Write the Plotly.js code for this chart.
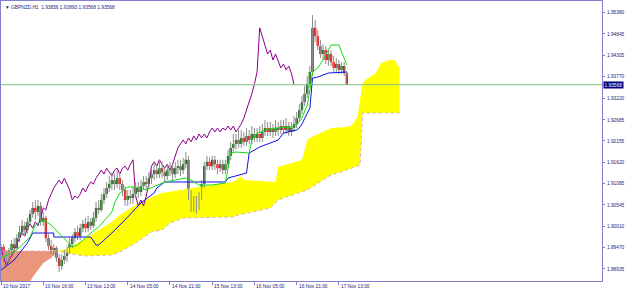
<!DOCTYPE html>
<html><head><meta charset="utf-8">
<script src="https://cdn.plot.ly/plotly-3.0.1.min.js"></script>
<style>html,body{margin:0;padding:0;background:#fff;overflow:hidden}#c{width:625px;height:289px}</style>
</head><body><div id="c"></div>
<script>
const symbolTitle = "\u25BC GBPNZD,H1  1.93856 1.93893 1.93568 1.93568";
const xTickBars = [0,16,32,48,64,80,96,112,128];
const xTickText = ["10 Nov 2017","10 Nov 16:00","13 Nov 13:00","14 Nov 05:00","14 Nov 21:00","15 Nov 13:00","16 Nov 05:00","16 Nov 21:00","17 Nov 13:00"];
const yTickVals = [1.95380,1.94845,1.94305,1.93770,1.93220,1.92685,1.92155,1.91620,1.91085,1.90545,1.90010,1.89470,1.88935];
const yTickText = ["1.95380","1.94845","1.94305","1.93770","1.93220","1.92685","1.92155","1.91620","1.91085","1.90545","1.90010","1.89470","1.88935"];
const bid = 1.93568;
const chikouShift = 20;

const open = [1.8941,1.8949,1.8936,1.8921,1.8941,1.8956,1.8946,1.8971,1.8986,1.9002,
 1.8991,1.9012,1.9032,1.9047,1.9037,1.9052,1.9012,1.9022,1.8971,1.8951,
 1.8941,1.8946,1.8921,1.8901,1.8916,1.8926,1.8941,1.8956,1.8971,1.8986,
 1.8976,1.8996,1.9007,1.8996,1.9012,1.9002,1.9022,1.9047,1.9042,1.9067,
 1.9082,1.9097,1.9107,1.9117,1.9107,1.9122,1.9107,1.9092,1.9067,1.9077,
 1.9072,1.9082,1.9097,1.9087,1.9102,1.9112,1.9107,1.9122,1.9132,1.9142,
 1.9132,1.9147,1.9137,1.9127,1.9142,1.9147,1.9132,1.9147,1.9152,1.9142,
 1.9157,1.9168,1.9077,1.9052,1.9067,1.9052,1.9077,1.9107,1.9152,1.9163,
 1.9152,1.9168,1.9157,1.9147,1.9157,1.9142,1.9157,1.9178,1.9198,1.9208,
 1.9218,1.9208,1.9223,1.9213,1.9228,1.9218,1.9233,1.9223,1.9233,1.9223,
 1.9238,1.9248,1.9238,1.9248,1.9238,1.9248,1.9243,1.9253,1.9243,1.9253,
 1.9238,1.9248,1.9258,1.9273,1.9293,1.9313,1.9334,1.9359,1.9389,1.9500,
 1.9479,1.9454,1.9434,1.9444,1.9419,1.9434,1.9414,1.9399,1.9409,1.9394,
 1.9404,1.93856];
const high = [1.8956,1.8956,1.8941,1.8946,1.8966,1.8971,1.8981,1.9002,1.9017,1.9012,
 1.9022,1.9042,1.9062,1.9067,1.9067,1.9062,1.9037,1.9027,1.8981,1.8966,
 1.8956,1.8951,1.8931,1.8931,1.8941,1.8951,1.8971,1.8981,1.8996,1.9002,
 1.9007,1.9017,1.9022,1.9027,1.9022,1.9037,1.9062,1.9067,1.9082,1.9097,
 1.9112,1.9127,1.9137,1.9132,1.9142,1.9137,1.9117,1.9102,1.9092,1.9092,
 1.9102,1.9112,1.9112,1.9117,1.9127,1.9127,1.9137,1.9147,1.9163,1.9157,
 1.9168,1.9163,1.9152,1.9157,1.9163,1.9157,1.9163,1.9168,1.9168,1.9173,
 1.9188,1.9178,1.9092,1.9077,1.9077,1.9087,1.9117,1.9163,1.9178,1.9173,
 1.9178,1.9178,1.9168,1.9168,1.9168,1.9168,1.9193,1.9213,1.9233,1.9233,
 1.9243,1.9243,1.9238,1.9248,1.9243,1.9253,1.9248,1.9248,1.9253,1.9258,
 1.9268,1.9263,1.9263,1.9258,1.9268,1.9263,1.9268,1.9268,1.9273,1.9263,
 1.9263,1.9278,1.9288,1.9308,1.9329,1.9354,1.9379,1.9404,1.9532,1.9520,
 1.9494,1.9469,1.9459,1.9454,1.9444,1.9444,1.9429,1.9424,1.9419,1.9414,
 1.9414,1.93893];
const low = [1.8926,1.8911,1.8901,1.8911,1.8931,1.8936,1.8941,1.8961,1.8976,1.8976,
 1.8981,1.9002,1.9022,1.9017,1.9027,1.9002,1.9002,1.8961,1.8941,1.8931,
 1.8926,1.8911,1.8886,1.8891,1.8906,1.8911,1.8931,1.8946,1.8961,1.8966,
 1.8966,1.8986,1.8986,1.8986,1.8991,1.8996,1.9012,1.9032,1.9037,1.9057,
 1.9072,1.9087,1.9092,1.9092,1.9097,1.9092,1.9077,1.9052,1.9052,1.9057,
 1.9057,1.9072,1.9072,1.9077,1.9092,1.9092,1.9097,1.9107,1.9117,1.9122,
 1.9122,1.9122,1.9112,1.9117,1.9127,1.9117,1.9122,1.9132,1.9127,1.9132,
 1.9147,1.9067,1.9037,1.9037,1.9032,1.9042,1.9067,1.9097,1.9142,1.9142,
 1.9142,1.9142,1.9132,1.9137,1.9132,1.9132,1.9147,1.9168,1.9188,1.9193,
 1.9198,1.9198,1.9203,1.9203,1.9208,1.9208,1.9213,1.9213,1.9213,1.9213,
 1.9228,1.9228,1.9228,1.9223,1.9228,1.9228,1.9233,1.9233,1.9233,1.9228,
 1.9228,1.9238,1.9248,1.9263,1.9283,1.9303,1.9323,1.9349,1.9379,1.9464,
 1.9444,1.9424,1.9419,1.9409,1.9404,1.9404,1.9389,1.9389,1.9384,1.9384,
 1.9379,1.93568];
const close = [1.8949,1.8936,1.8921,1.8941,1.8956,1.8946,1.8971,1.8986,1.9002,1.8991,
 1.9012,1.9032,1.9047,1.9037,1.9052,1.9012,1.9022,1.8971,1.8951,1.8941,
 1.8946,1.8921,1.8901,1.8916,1.8926,1.8941,1.8956,1.8971,1.8986,1.8976,
 1.8996,1.9007,1.8996,1.9012,1.9002,1.9022,1.9047,1.9042,1.9067,1.9082,
 1.9097,1.9107,1.9117,1.9107,1.9122,1.9107,1.9092,1.9067,1.9077,1.9072,
 1.9082,1.9097,1.9087,1.9102,1.9112,1.9107,1.9122,1.9132,1.9142,1.9132,
 1.9147,1.9137,1.9127,1.9142,1.9147,1.9132,1.9147,1.9152,1.9142,1.9157,
 1.9168,1.9077,1.9052,1.9067,1.9052,1.9077,1.9107,1.9152,1.9163,1.9152,
 1.9168,1.9157,1.9147,1.9157,1.9142,1.9157,1.9178,1.9198,1.9208,1.9218,
 1.9208,1.9223,1.9213,1.9228,1.9218,1.9233,1.9223,1.9233,1.9223,1.9238,
 1.9248,1.9238,1.9248,1.9238,1.9248,1.9243,1.9253,1.9243,1.9253,1.9238,
 1.9248,1.9258,1.9273,1.9293,1.9313,1.9334,1.9359,1.9389,1.9500,1.9479,
 1.9454,1.9434,1.9444,1.9419,1.9434,1.9414,1.9399,1.9409,1.9394,1.9404,
 1.9386,1.93568];

const tenkanBar = [0,5,8,11,13,16,19,22,25,27,29,31,34,37,40,42,43,45,48,51,55,59,62,66,70,72,75,80,85,86,87,89,94,95,97,100,104,110,112,114,116,117,118,120,122,124,125,128,129,130,131];
const tenkanVal = [1.89210,1.89361,1.89537,1.89738,1.90040,1.90166,1.90040,1.89839,1.89613,1.89487,1.89537,1.89663,1.89839,1.89990,1.90216,1.90367,1.90594,1.90845,1.90996,1.90996,1.90920,1.91046,1.91122,1.91172,1.91222,1.91172,1.91046,1.91046,1.91097,1.91474,1.91851,1.91876,1.91851,1.92178,1.92349,1.92429,1.92480,1.92505,1.92555,1.92731,1.93058,1.93436,1.93888,1.93989,1.94190,1.94442,1.94567,1.94567,1.94391,1.94240,1.94064];
const kijunBar = [0,5,10,12,20,20,34,36,37,42,48,53,58,59,62,85,86,93,94,98,105,107,112,113,114,115,116,117,118,120,124,131];
const kijunVal = [1.88909,1.89160,1.89588,1.89839,1.89839,1.89738,1.89738,1.89537,1.89537,1.89839,1.90241,1.90594,1.90845,1.90971,1.91122,1.91122,1.91222,1.91348,1.91851,1.92002,1.92178,1.92354,1.92430,1.92480,1.92580,1.92706,1.92832,1.92984,1.93737,1.93762,1.93863,1.93888];
const spanABar = [0,8,11,12,16,19,21,25,29,32,38,42,45,51,57,61,68,77,88,90,91,92,104,105,110,114,116,117,125,131,133,135,137,138,142,144,147,149,151];
const spanAVal = [1.88280,1.88456,1.88607,1.88732,1.89085,1.89210,1.89386,1.89437,1.89588,1.89713,1.89965,1.90116,1.90292,1.90543,1.90744,1.90845,1.90920,1.91021,1.91122,1.91222,1.91273,1.91172,1.91122,1.91499,1.91600,1.91675,1.92178,1.92228,1.92480,1.92505,1.92555,1.92756,1.93612,1.93687,1.93863,1.94115,1.94190,1.94190,1.93989];
const spanBBar = [0,21,29,32,42,45,51,57,61,64,69,88,90,102,105,107,116,120,125,131,136,137,151];
const spanBVal = [1.89386,1.89386,1.89286,1.89261,1.89286,1.89361,1.89588,1.89864,1.89915,1.90091,1.90216,1.90241,1.90292,1.90468,1.90669,1.90719,1.90920,1.91097,1.91298,1.91424,1.91549,1.92857,1.92857];
const kumoSwitchBar = 21;

const C = {frame:'#8080CC', text:'#1C1C78', bull:'#005A00', bear:'#F00000', wick:'#8C8C8C',
  tenkan:'#11DD11', kijun:'#1010E8', chikou:'#8B008B', up:'#FFFF00', down:'#E9967A',
  spanB:'#D0B0D8', bidLine:'#7CC47C', bidBox:'#000080'};

const idx = close.map((_, i) => i);
const pick = (bars, vals, f) => {
  const xs = [], ys = [];
  bars.forEach((b, k) => { if (f(b)) { xs.push(b); ys.push(vals[k]); } });
  return {x: xs, y: ys};
};
const aDown = pick(spanABar, spanAVal, b => b <= kumoSwitchBar);
const bDown = pick(spanBBar, spanBVal, b => b <= kumoSwitchBar);
const aUp = pick(spanABar, spanAVal, b => b >= kumoSwitchBar);
const bUp = pick(spanBBar, spanBVal, b => b >= kumoSwitchBar);

const wx = [], wy = [];
idx.forEach(i => { wx.push(i, i, null); wy.push(low[i], high[i], null); });

const traces = [
  {x: bDown.x, y: bDown.y, mode:'lines', line:{width:0}, hoverinfo:'skip'},
  {x: aDown.x, y: aDown.y, mode:'lines', line:{width:0}, fill:'tonexty', fillcolor:C.down, hoverinfo:'skip'},
  {x: bUp.x, y: bUp.y, mode:'lines', line:{width:0}, hoverinfo:'skip'},
  {x: aUp.x, y: aUp.y, mode:'lines', line:{width:0}, fill:'tonexty', fillcolor:C.up, hoverinfo:'skip'},
  {x: spanBBar, y: spanBVal, mode:'lines', line:{width:1, color:C.spanB, dash:'dot'}},
  {x: idx.slice(chikouShift).map(i => i - chikouShift), y: close.slice(chikouShift), mode:'lines', line:{width:1, color:C.chikou}},
  {x: wx, y: wy, mode:'lines', line:{width:1, color:C.wick}, connectgaps:false},
  {type:'bar', x: idx, base: open, y: idx.map(i => close[i] - open[i]), width: 0.9,
   marker:{color: idx.map(i => close[i] >= open[i] ? C.bull : C.bear), line:{width:0}}},
  {x: kijunBar, y: kijunVal, mode:'lines', line:{width:1, color:C.kijun}},
  {x: tenkanBar, y: tenkanVal, mode:'lines', line:{width:1, color:C.tenkan}}
];

const xLabels = xTickBars.map((b, k) => ({xref:'x', yref:'paper', x:b, y:0, xanchor:'left', yanchor:'top',
  xshift:0, yshift:-0.5, text:xTickText[k], showarrow:false, font:{size:4.8, color:C.text}}));

const layout = {
  width:625, height:289, showlegend:false,
  margin:{l:1, r:23, t:1, b:8},
  paper_bgcolor:'#ffffff', plot_bgcolor:'#ffffff',
  font:{family:'Liberation Sans, Arial, sans-serif', size:5, color:C.text},
  barmode:'overlay',
  xaxis:{range:[0, 227.65], showgrid:false, zeroline:false, showline:true, mirror:true,
    linecolor:C.frame, linewidth:1, tickvals:xTickBars, showticklabels:false,
    ticks:'outside', ticklen:3, tickcolor:C.frame, fixedrange:true},
  yaxis:{range:[1.88632, 1.95674], side:'right', showgrid:false, zeroline:false, showline:true, mirror:true,
    linecolor:C.frame, linewidth:1, tickvals:yTickVals, ticktext:yTickText,
    ticks:'outside', ticklen:2, tickcolor:C.frame, tickfont:{size:4.8, color:C.text},
    ticklabelstandoff:1, fixedrange:true},
  shapes:[{type:'line', xref:'paper', x0:0, x1:1, yref:'y', y0:bid, y1:bid, line:{color:C.bidLine, width:1}}],
  annotations:[
    {xref:'paper', yref:'paper', x:0, y:1, xanchor:'left', yanchor:'top', xshift:2, yshift:-2,
     text:symbolTitle, showarrow:false, font:{size:4.8, color:C.text}},
    {xref:'paper', yref:'y', x:1, y:bid, xanchor:'left', yanchor:'middle', xshift:1,
     text:bid.toFixed(5), showarrow:false, bgcolor:C.bidBox, borderpad:0.5, font:{size:4.8, color:'#ffffff'}}
  ].concat(xLabels)
};
Plotly.newPlot('c', traces, layout, {displayModeBar:false, staticPlot:true});
</script>
</body></html>
